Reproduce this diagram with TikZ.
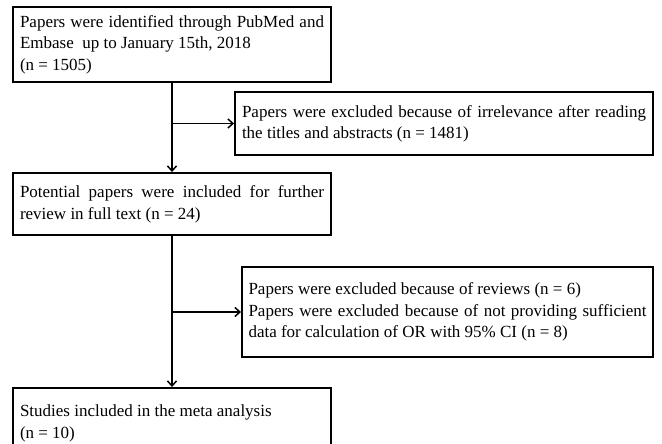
\documentclass[tikz,border=0pt]{standalone}
\usepackage{fontspec}
\setmainfont{Liberation Serif}
\usetikzlibrary{arrows.meta}
\begin{document}
\begin{tikzpicture}[x=1pt,y=-1pt,
  every node/.style={font=\fontsize{17}{21.5}\selectfont},
  flowbox/.style={draw,line width=1.9pt,rectangle,align=justify,inner ysep=0pt},
  conn/.style={line width=1.8pt,-{Straight Barb[length=5pt,width=9pt,line width=1.5pt]}}]
\useasboundingbox (0,0) rectangle (662,444);
\node[flowbox,text width=304,inner xsep=7,minimum height=75] (b1) at (172,44.5)
  {\strut Papers were identified through PubMed and\linebreak Embase\ \ up to January 15th, 2018\\ (n = 1505)\strut};
\node[flowbox,text width=404,inner xsep=7,minimum height=63] (b2) at (444,123.5)
  {\strut Papers were excluded because of irrelevance after reading\linebreak the titles and abstracts (n = 1481)\strut};
\node[flowbox,text width=304,inner xsep=7,minimum height=62] (b3) at (172,204)
  {\strut Potential papers were included for further\linebreak review in full text (n = 24)\strut};
\node[flowbox,text width=398,inner xsep=6.5,minimum height=90] (b4) at (447.5,312)
  {\strut Papers were excluded because of reviews (n = 6)\\ Papers were excluded because of not providing sufficient\linebreak data for calculation of OR with 95\% CI (n = 8)\strut};
\node[flowbox,text width=304,inner xsep=7,minimum height=70] (b5) at (172,423)
  {\strut Studies included in the meta analysis\\ (n = 10)\strut};
\draw[conn] (b1.south) -- (b3.north);
\draw[conn] (b1.south |- b2.west) -- (b2.west);
\draw[conn] (b3.south) -- (b5.north);
\draw[conn] (b3.south |- b4.west) -- (b4.west);
\end{tikzpicture}
\end{document}
